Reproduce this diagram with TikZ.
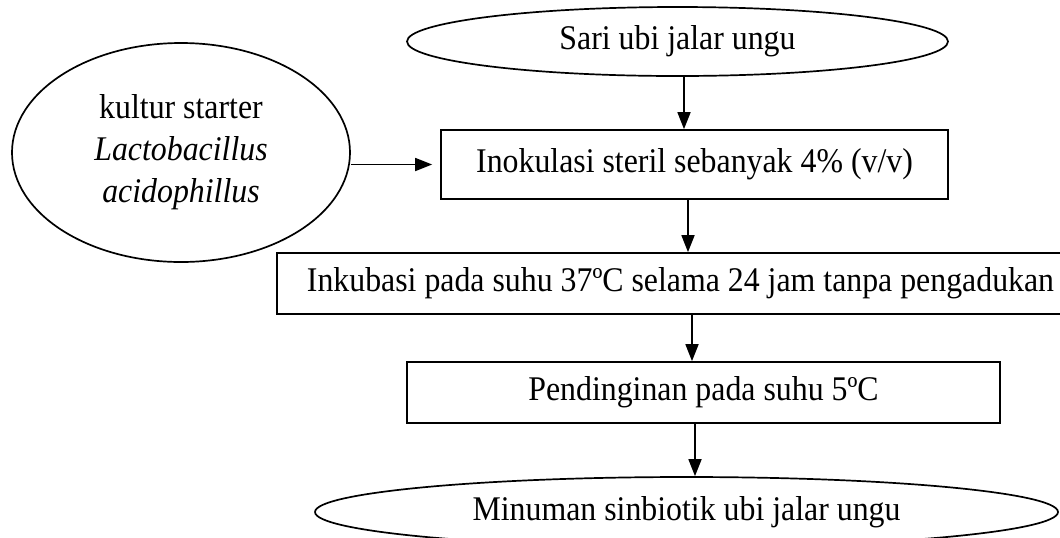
\documentclass[tikz,border=0pt]{standalone}
\usepackage{fontspec}
\setmainfont{Liberation Serif}[FakeStretch=0.92]
\usetikzlibrary{shapes.geometric,arrows.meta}
\begin{document}
\begin{tikzpicture}[x=0.5pt,y=-0.5pt,
  every node/.style={font=\fontsize{17.3pt}{21pt}\selectfont},
  boxnode/.style={draw,line width=0.85pt,rectangle,inner sep=0pt},
  ovalnode/.style={draw,line width=0.85pt,ellipse,inner sep=0pt},
  arr/.style={line width=0.85pt,-{Triangle[length=8.5pt,width=6.5pt]}}]
\useasboundingbox (0,0) rectangle (1060,537);
\fill[white] (0,0) rectangle (1060,537);
\clip (0,0) rectangle (1060,537);
\node[ovalnode,minimum width=270.5pt,minimum height=34.5pt] (top) at (677.5,41.5) {Sari ubi jalar ungu};
\node[ovalnode,minimum width=169pt,minimum height=109.5pt,align=center] (starter) at (181,152.5) {kultur starter\\\textit{Lactobacillus}\\\textit{acidophillus}};
\node[boxnode,minimum width=253.5pt,minimum height=34.5pt] (inok) at (694.5,164.5) {Inokulasi steril sebanyak 4\% (v/v)};
\node[boxnode,minimum width=403.5pt,minimum height=30.5pt] (inku) at (680.5,283.5) {Inkubasi pada suhu 37ºC selama 24 jam tanpa pengadukan};
\node[boxnode,minimum width=296.5pt,minimum height=30.5pt] (dingin) at (703.5,392.5) {Pendinginan pada suhu 5ºC};
\node[ovalnode,minimum width=371.5pt,minimum height=35pt] (minum) at (686.5,512) {Minuman sinbiotik ubi jalar ungu};
\draw[arr] ([xshift=3.25pt]top.south) -- ([xshift=3.25pt]top.south |- inok.north);
\draw[arr,shorten >=4pt] (starter.east |- inok.west) -- (inok.west);
\draw[arr] ([xshift=-3.25pt]inok.south) -- ([xshift=-3.25pt]inok.south |- inku.north);
\draw[arr] ([xshift=5.75pt]inku.south) -- ([xshift=5.75pt]inku.south |- dingin.north);
\draw[arr] ([xshift=-4.25pt]dingin.south) -- ([xshift=-4.25pt]dingin.south |- minum.north);
\end{tikzpicture}
\end{document}
